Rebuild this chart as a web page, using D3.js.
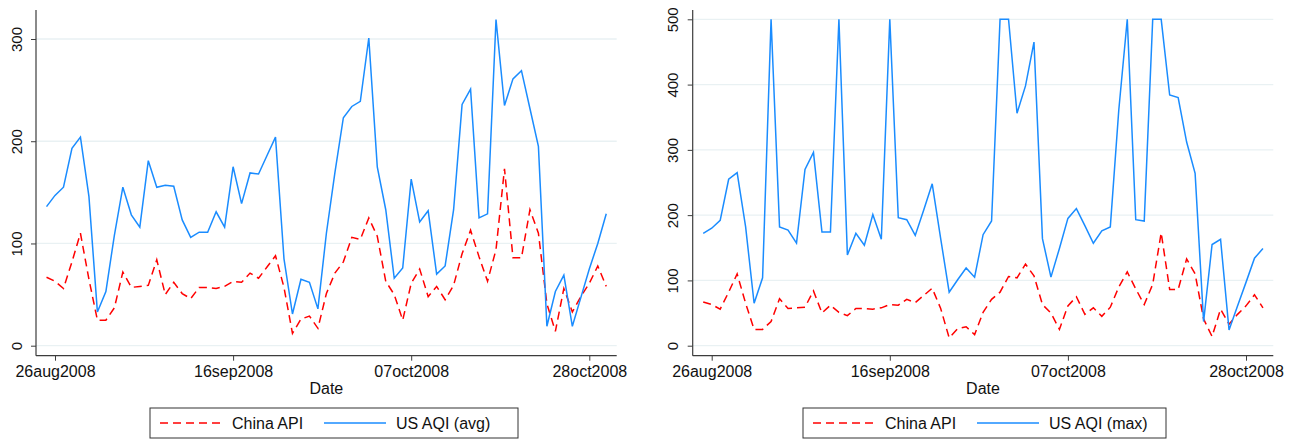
<!DOCTYPE html>
<html>
<head>
<meta charset="utf-8">
<script src="https://cdn.jsdelivr.net/npm/d3@7"></script>
<style>
  body { margin: 0; background: #fff; }
  svg { display: block; font-family: "Liberation Sans", Arial, sans-serif; }
</style>
</head>
<body>
<svg id="chart" width="1296" height="440"></svg>
<script>
// daily readings, 25 Aug 2008 .. 30 Oct 2008
const startDate = '2008-08-25';
const chinaApi = [67, 63, 56, 82, 110, 65, 25, 25, 37, 72, 57, 58, 59, 84, 50, 62, 51, 46, 57, 57,
    56, 58, 63, 62, 71, 66, 77, 88, 57, 12, 26, 29, 17, 51, 71, 82, 106, 104, 125, 107,
    63, 50, 25, 61, 75, 48, 58, 45, 59, 90, 113, 87, 63, 94, 173, 86, 86, 133, 110, 41,
    14, 56, 33, 48, 61, 78, 58];
const usAqiAvg = [136, 147, 155, 193, 204, 146, 33, 53, 108, 155, 128, 116, 181, 155, 157, 156, 123, 106, 111, 111,
    131, 116, 175, 139, 169, 168, 186, 204, 85, 31, 65, 62, 36, 110, 169, 223, 234, 239, 301, 175,
    133, 66, 76, 163, 121, 132, 70, 78, 133, 236, 251, 125, 129, 319, 235, 261, 269, 232, 195, 19,
    53, 69, 19, 47, 75, 100, 129];
const usAqiMax = [172, 180, 192, 255, 265, 182, 65, 104, 500, 182, 177, 157, 270, 296, 174, 174, 500, 139, 172, 154,
    201, 163, 500, 196, 193, 169, 208, 248, 164, 82, 101, 119, 105, 170, 191, 500, 500, 356, 398, 465,
    164, 105, 149, 195, 210, 184, 157, 176, 182, 361, 500, 193, 191, 500, 500, 384, 380, 312, 264, 37,
    155, 163, 24, 61, 97, 134, 149];

const xTickLabels = ['26aug2008', '16sep2008', '07oct2008', '28oct2008'];
const yTicksAvg = [0, 100, 200, 300];
const yTicksMax = [0, 100, 200, 300, 400, 500];
const seriesLabels = ['China API', 'US AQI (avg)', 'US AQI (max)'];

const BLUE = '#1a8cff';
const RED = '#ff0000';
const GRID = '#e9f1f3';
const AXIS = '#3c3c3c';

const parseTick = d3.utcParse('%d%b%Y');
const fmtTick = d => d3.utcFormat('%d%b%Y')(d).toLowerCase();
const start = d3.utcParse('%Y-%m-%d')(startDate);

const svg = d3.select('#chart');

function drawPanel(cfg) {
    const g = svg.append('g');
    const tickDates = xTickLabels.map(parseTick);

    const x = d3.scaleUtc()
        .domain([tickDates[0], tickDates[tickDates.length - 1]])
        .range(cfg.xRange);
    const y = d3.scaleLinear()
        .domain([0, d3.max(cfg.yTicks)])
        .range(cfg.yRange);

    // gridlines
    g.selectAll('.grid').data(cfg.yTicks).enter().append('line')
        .attr('x1', cfg.left).attr('x2', cfg.right)
        .attr('y1', d => y(d)).attr('y2', d => y(d))
        .attr('stroke', GRID).attr('stroke-width', 1.3);

    const rows = chinaApi.map((v, i) => ({
        date: d3.utcDay.offset(start, i), api: v, aqi: cfg.aqi[i]
    }));

    const line = acc => d3.line().x(d => x(d.date)).y(d => y(acc(d)));

    g.append('path').datum(rows)
        .attr('d', line(d => d.api))
        .attr('fill', 'none').attr('stroke', RED).attr('stroke-width', 1.5)
        .attr('stroke-dasharray', '8,5');

    g.append('path').datum(rows)
        .attr('d', line(d => d.aqi))
        .attr('fill', 'none').attr('stroke', BLUE).attr('stroke-width', 1.5)
        .attr('stroke-linejoin', 'miter');

    // y axis, labels turned upright like the original
    const yAxis = g.append('g')
        .attr('transform', `translate(${cfg.left},0)`)
        .call(d3.axisLeft(y).tickValues(cfg.yTicks).tickSize(5).tickFormat(d3.format('d')));
    yAxis.select('.domain').remove();
    yAxis.selectAll('line').attr('stroke', AXIS);
    yAxis.selectAll('text')
        .attr('x', 0).attr('y', 0).attr('dy', null)
        .attr('transform', 'translate(-20,0) rotate(-90)')
        .attr('text-anchor', 'middle')
        .attr('dominant-baseline', 'central')
        .attr('font-size', 15).attr('fill', '#111');
    g.append('line')
        .attr('x1', cfg.left).attr('x2', cfg.left)
        .attr('y1', cfg.top).attr('y2', cfg.bottom)
        .attr('stroke', AXIS).attr('stroke-width', 1.2);

    // x axis
    const xAxis = g.append('g')
        .attr('transform', `translate(0,${cfg.bottom})`)
        .call(d3.axisBottom(x).tickValues(tickDates).tickSize(5).tickFormat(fmtTick));
    xAxis.select('.domain').remove();
    xAxis.selectAll('line').attr('stroke', AXIS);
    xAxis.selectAll('text').attr('font-size', 16).attr('fill', '#111').attr('dy', '0.85em');
    g.append('line')
        .attr('x1', cfg.left).attr('x2', cfg.right)
        .attr('y1', cfg.bottom).attr('y2', cfg.bottom)
        .attr('stroke', AXIS).attr('stroke-width', 1.2);

    g.append('text')
        .attr('x', (cfg.left + cfg.right) / 2).attr('y', 394)
        .attr('text-anchor', 'middle').attr('font-size', 16).attr('fill', '#111')
        .text('Date');

    // legend
    const lg = g.append('g').attr('transform', `translate(${cfg.legendX},408)`);
    lg.append('rect')
        .attr('width', cfg.legendW).attr('height', 30)
        .attr('fill', '#fff').attr('stroke', '#333').attr('stroke-width', 1);
    const items = [
        { label: seriesLabels[0], color: RED, dash: '8,5', x: 10 },
        { label: cfg.label, color: BLUE, dash: null, x: 174 }
    ];
    items.forEach(it => {
        lg.append('line')
            .attr('x1', it.x).attr('x2', it.x + 62)
            .attr('y1', 15).attr('y2', 15)
            .attr('stroke', it.color).attr('stroke-width', 1.5)
            .attr('stroke-dasharray', it.dash);
        lg.append('text')
            .attr('x', it.x + 72).attr('y', 15)
            .attr('dominant-baseline', 'central')
            .attr('font-size', 16).attr('fill', '#111')
            .text(it.label);
    });
}

drawPanel({
    left: 36, right: 616.7, top: 10, bottom: 355.7,
    xRange: [55, 589.3], yRange: [345.7, 39],
    yTicks: yTicksAvg, aqi: usAqiAvg, label: seriesLabels[1],
    legendX: 150, legendW: 368
});

drawPanel({
    left: 692.7, right: 1273.3, top: 10, bottom: 355.7,
    xRange: [711.7, 1246], yRange: [345.7, 19.3],
    yTicks: yTicksMax, aqi: usAqiMax, label: seriesLabels[2],
    legendX: 803, legendW: 363
});
</script>
</body>
</html>
